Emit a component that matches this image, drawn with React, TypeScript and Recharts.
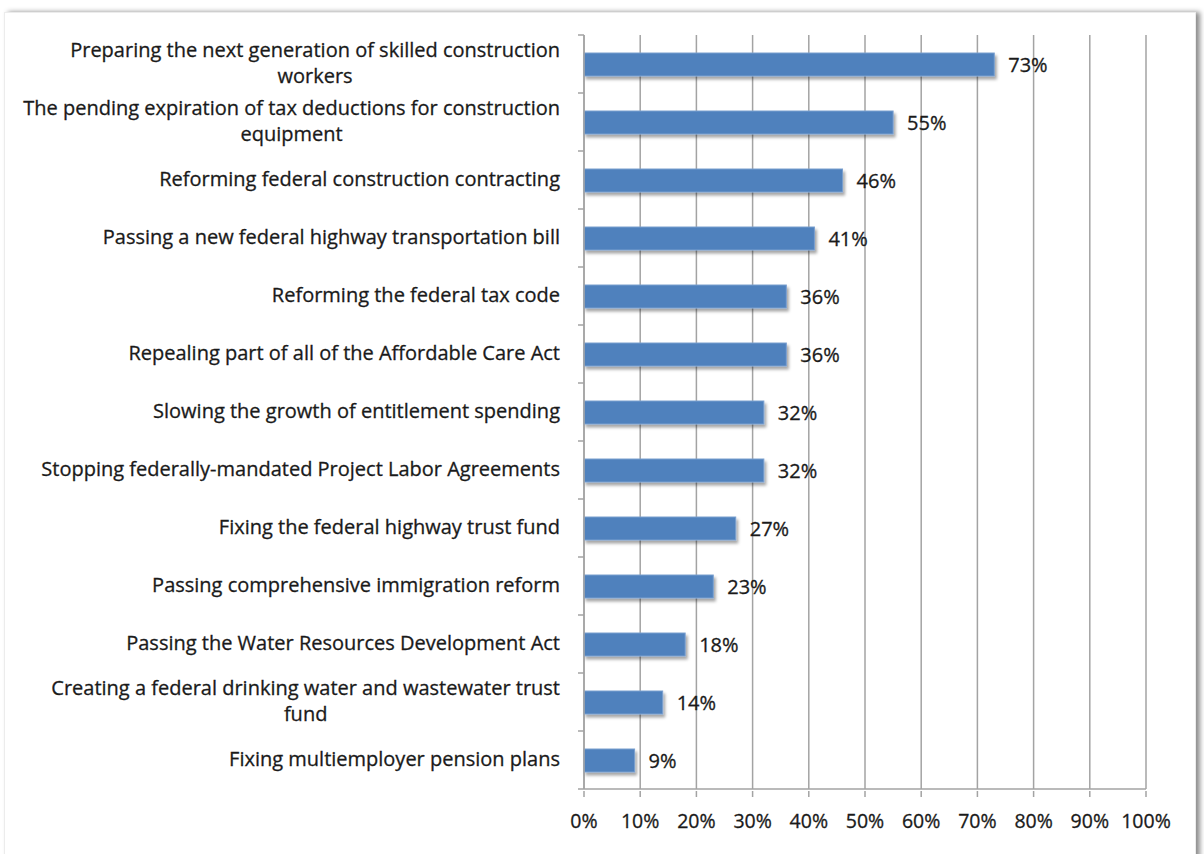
import React from 'react'
import {
  BarChart,
  Bar,
  XAxis,
  YAxis,
  CartesianGrid,
  LabelList,
} from 'recharts'

// issues, top to bottom ("\n" marks where the label wraps)
const issues = [
  'Preparing the next generation of skilled construction\nworkers',
  'The pending expiration of tax deductions for construction\nequipment',
  'Reforming federal construction contracting',
  'Passing a new federal highway transportation bill',
  'Reforming the federal tax code',
  'Repealing part of all of the Affordable Care Act',
  'Slowing the growth of entitlement spending',
  'Stopping federally-mandated Project Labor Agreements',
  'Fixing the federal highway trust fund',
  'Passing comprehensive immigration reform',
  'Passing the Water Resources Development Act',
  'Creating a federal drinking water and wastewater trust\nfund',
  'Fixing multiemployer pension plans',
]
const shares = [73, 55, 46, 41, 36, 36, 32, 32, 27, 23, 18, 14, 9]
const xTicks = [0, 10, 20, 30, 40, 50, 60, 70, 80, 90, 100]

const data = issues.map((name, i) => ({ name, value: shares[i] }))

const FONT = '"Open Sans", Lato, sans-serif'
const SIZE = 20
const TEXT = '#1a1a1a'
const GRID = '#a3a3a3'
const W = 1204
const H = 854
const TOP = 35
const BOTTOM = 65
const LEFT = 584
const RIGHT = 58
const band = (H - TOP - BOTTOM) / issues.length

const textStyle = {
  fontFamily: FONT,
  fontSize: SIZE,
  fill: TEXT,
  stroke: TEXT,
  strokeWidth: 0.3,
}
const tickStyle = { ...textStyle, fontSize: 19.5 }

let ctx: CanvasRenderingContext2D | null = null
function textWidth(s: string) {
  if (!ctx) ctx = document.createElement('canvas').getContext('2d')
  if (!ctx) return s.length * SIZE * 0.55
  ctx.font = `${SIZE}px ${FONT}`
  return ctx.measureText(s).width
}

function IssueTick(props: any) {
  const { x, y, payload, index } = props
  const lines: string[] = String(payload.value).split('\n')
  const right = x - 24
  const w = textWidth(lines[0])
  const lh = 26
  const y0 = y - 2 - ((lines.length - 1) * lh) / 2
  return (
    <g>
      <line x1={x - 6} x2={x} y1={y - band / 2} y2={y - band / 2} stroke={GRID} strokeWidth={1.5} />
      {index === issues.length - 1 && (
        <line x1={x - 6} x2={x} y1={y + band / 2} y2={y + band / 2} stroke={GRID} strokeWidth={1.5} />
      )}
      {lines.map((l, i) => (
        <text
          key={i}
          x={i === 0 ? right : right - w / 2}
          y={y0 + i * lh}
          textAnchor={i === 0 ? 'end' : 'middle'}
          dominantBaseline="central"
          style={textStyle}
        >
          {l}
        </text>
      ))}
    </g>
  )
}

function PctTick(props: any) {
  const { x, y, payload } = props
  return (
    <g>
      <line x1={x} x2={x} y1={y} y2={y + 6} stroke={GRID} strokeWidth={1.5} />
      <text x={x} y={y + 29} textAnchor="middle" dominantBaseline="central" style={tickStyle}>
        {payload.value}%
      </text>
    </g>
  )
}

function ShadowBar(props: any) {
  const { x, y, width, height } = props
  return (
    <rect
      x={x}
      y={y}
      width={width}
      height={height}
      fill="#4f81bd"
      stroke="#7a9fcf"
      strokeWidth={1}
      filter="url(#barShadow)"
    />
  )
}

export default function App() {
  return (
    <div
      style={{
        position: 'absolute',
        left: 0,
        top: 0,
        width: W,
        height: H,
        overflow: 'hidden',
        background: '#fff',
      }}
    >
      <div
        style={{
          position: 'absolute',
          left: 4,
          top: 12,
          width: 1190,
          height: 870,
          background: '#fff',
          border: '1px solid #ececec',
          boxShadow: '4px 0 5px rgba(0,0,0,0.45)',
        }}
      />
      <div style={{ position: 'absolute', left: 0, top: 0 }}>
        <BarChart
          width={W}
          height={H}
          data={data}
          layout="vertical"
          margin={{ top: TOP, right: RIGHT, bottom: 20, left: 0 }}
          barSize={23}
        >
          <defs>
            <filter id="barShadow" x="-5%" y="-30%" width="115%" height="180%">
              <feDropShadow dx="2" dy="3" stdDeviation="1.5" floodColor="#000" floodOpacity="0.35" />
            </filter>
          </defs>
          <CartesianGrid horizontal={false} stroke={GRID} strokeWidth={1.5} />
          <XAxis
            type="number"
            domain={[0, 100]}
            ticks={xTicks}
            height={45}
            interval={0}
            axisLine={{ stroke: GRID, strokeWidth: 1.5 }}
            tickLine={false}
            tickSize={0}
            tick={<PctTick />}
          />
          <YAxis
            type="category"
            dataKey="name"
            width={LEFT}
            interval={0}
            axisLine={{ stroke: GRID, strokeWidth: 1.5 }}
            tickLine={false}
            tickSize={0}
            tickMargin={0}
            tick={<IssueTick />}
          />
          <Bar dataKey="value" shape={<ShadowBar />} isAnimationActive={false}>
            <LabelList
              dataKey="value"
              position="right"
              offset={14}
              formatter={(v: any) => `${v}%`}
              style={textStyle}
            />
          </Bar>
        </BarChart>
      </div>
    </div>
  )
}
